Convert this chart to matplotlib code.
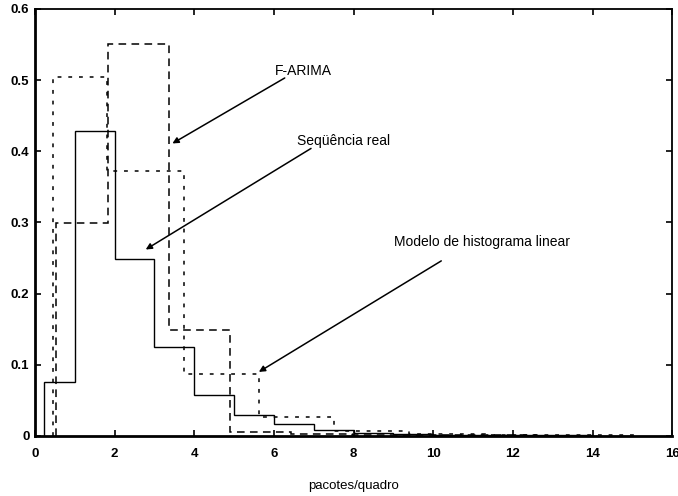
import matplotlib
matplotlib.use("Agg")
import matplotlib.pyplot as plt

# Data
real_edges = [0.22, 1, 2, 3, 4, 5, 6, 7, 8, 9, 10, 11, 12, 13, 14, 15]
real_vals = [0.076, 0.428, 0.249, 0.125, 0.057, 0.029, 0.017, 0.009, 0.004, 0.003,
             0.002, 0.0015, 0.001, 0.001, 0.0005]

farima_edges = [0.54, 1.83, 3.36, 4.89, 6.43, 7.97, 9.5, 11.04, 12.57, 14.1]
farima_vals = [0.299, 0.551, 0.149, 0.005, 0.003, 0.002, 0.001, 0.001, 0.0005]

linear_edges = [0.46, 1.82, 3.73, 5.62, 7.5, 9.4, 11.3, 13.2, 15.1]
linear_vals = [0.504, 0.372, 0.087, 0.027, 0.007, 0.003, 0.002, 0.001]

xticks = [0, 2, 4, 6, 8, 10, 12, 14, 16]
yticks = [0, 0.1, 0.2, 0.3, 0.4, 0.5, 0.6]
ytick_labels = ["0", "0.1", "0.2", "0.3", "0.4", "0.5", "0.6"]

plt.rcParams['font.family'] = ['Liberation Sans', 'DejaVu Sans']

fig = plt.figure(figsize=(6.78, 4.96), dpi=100)
ax = fig.add_axes([0.0516, 0.121, 0.940, 0.861])

ax.stairs(real_vals, real_edges, color='black', linewidth=1.0, linestyle='-')
ax.stairs(farima_vals, farima_edges, color='black', linewidth=1.1, linestyle=(0, (5, 3.5)))
ax.stairs(linear_vals, linear_edges, color='black', linewidth=1.1, linestyle=(0, (2.5, 4.5)))

ax.set_xlim(0, 16)
ax.set_ylim(0, 0.6)
ax.set_xticks(xticks)
ax.set_xticklabels([str(t) for t in xticks], fontweight='bold', fontsize=9.5)
ax.set_yticks(yticks)
ax.set_yticklabels(ytick_labels, fontweight='bold', fontsize=9.5)
ax.tick_params(direction='in', top=True, right=True, length=4, width=1.2)
ax.tick_params(axis='x', pad=9)
ax.tick_params(axis='y', pad=4)
for s in ax.spines.values():
    s.set_linewidth(1.3)
ax.spines['left'].set_linewidth(2)
ax.spines['bottom'].set_linewidth(2)

ax.set_xlabel("pacotes/quadro", fontsize=9.5, labelpad=14)

arrowprops = dict(arrowstyle='-|>', color='black', lw=1.1, mutation_scale=9, shrinkA=0, shrinkB=0)
ax.annotate("", xy=(3.45, 0.411), xytext=(6.27, 0.503), arrowprops=arrowprops)
ax.text(6.73, 0.513, "F-ARIMA", fontsize=10, ha='center', va='center')
ax.annotate("", xy=(2.78, 0.262), xytext=(6.93, 0.404), arrowprops=arrowprops)
ax.text(7.75, 0.414, "Seqüência real", fontsize=10, ha='center', va='center')
ax.annotate("", xy=(5.62, 0.09), xytext=(10.2, 0.246), arrowprops=arrowprops)
ax.text(11.23, 0.273, "Modelo de histograma linear", fontsize=10, ha='center', va='center')

fig.savefig("out.png", dpi=100)
